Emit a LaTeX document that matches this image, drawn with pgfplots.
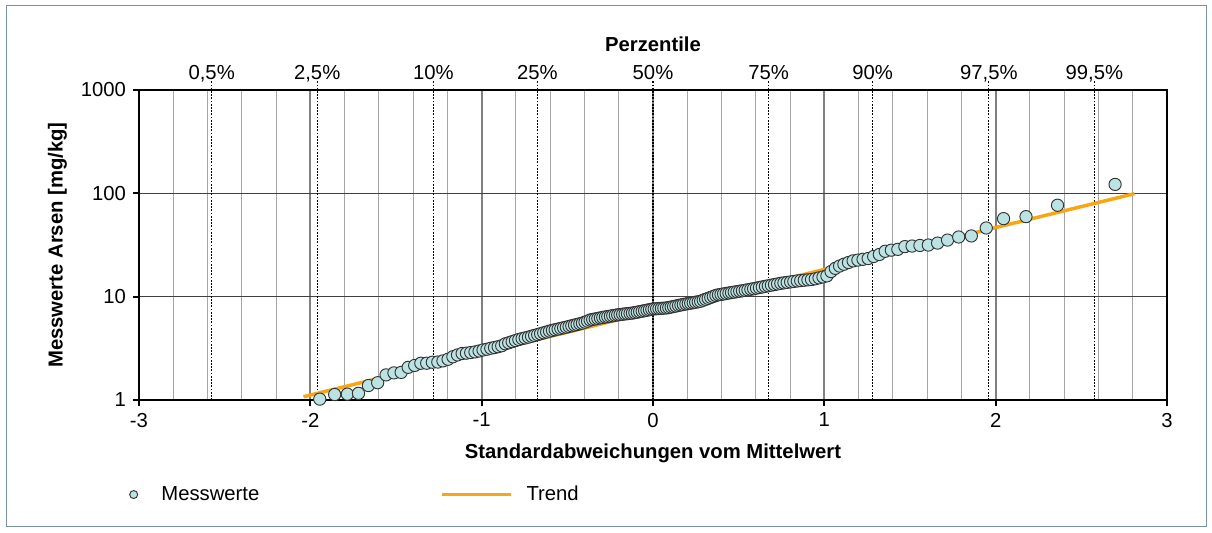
\documentclass[border=0pt]{standalone}
\usepackage{pgfplots}
\pgfplotsset{compat=1.18}
\usepackage{fontspec}
\setmainfont{Liberation Sans}
\definecolor{frameblue}{RGB}{120,146,168}
\definecolor{markfill}{RGB}{187,227,227}
\definecolor{trendorange}{RGB}{250,166,20}
\pgfplotsset{
  markleg/.style={legend image code/.code={\draw[##1, mark size=3pt] plot coordinates {(0pt,0pt)};\path (10.6pt,0pt);}},
  lineleg/.style={legend image code/.code={\draw[##1] (0pt,0pt) -- (51.75pt,0pt);}},
}
\begin{document}
\fontsize{15.2}{18}\selectfont
\begin{tikzpicture}
\path (0pt,0pt) rectangle (909pt,399pt);
\draw[frameblue, line width=0.75pt] (4.5pt,4.5pt) rectangle (904.5pt,394.5pt);
% main axis: grid, frame, ticks
\begin{axis}[
  at={(104.25pt,99pt)}, anchor=south west,
  width=771pt, height=232.5pt, scale only axis,
  xmin=-3, xmax=3, ymin=1, ymax=1000, ymode=log,
  xtick={-3,-2,-1,0,1,2,3}, xticklabels={-3,-2,-1,0,1,2,3},
  minor x tick num=4,
  ytick={1,10,100,1000}, yticklabels={1,10,100,1000},
  yminorticks=false,
  xmajorgrids, xminorgrids, ymajorgrids,
  major x grid style={black!50, line width=1.3pt},
  minor x grid style={black!35, line width=0.8pt},
  major y grid style={black!75, line width=0.9pt},
  tick align=outside, xtick pos=left, ytick pos=left,
  major tick length=4.5pt,
  minor x tick style={draw=none},
  major tick style={black, line width=1.3pt},
  axis line style={black, line width=1.5pt},
  xlabel={\bfseries Standardabweichungen vom Mittelwert},
  ylabel={\bfseries Messwerte Arsen [mg/kg]},
  xlabel style={at={(axis description cs:0.5,-0.171)}, anchor=center},
  ylabel style={at={(axis description cs:-0.0793,0.5)}, anchor=center},
]
\end{axis}
% percentile axis and data
\begin{axis}[
  at={(104.25pt,99pt)}, anchor=south west,
  width=771pt, height=232.5pt, scale only axis,
  xmin=-3, xmax=3, ymin=1, ymax=1000, ymode=log,
  axis line style={draw=none},
  ytick=\empty, yminorticks=false,
  xtick={-2.5758,-1.9600,-1.2816,-0.6745,0,0.6745,1.2816,1.9600,2.5758},
  xticklabels={{0,5\%},{2,5\%},10\%,25\%,50\%,75\%,90\%,{97,5\%},{99,5\%}},
  xtick pos=right, xticklabel pos=right, tick align=outside,
  xticklabel style={anchor=base, yshift=1.5pt},
  major tick length=6.5pt,
  xmajorgrids,
  major x grid style={black, line width=1pt, dash pattern=on 1.3pt off 1.1pt},
  major x tick style={black, line width=1pt, dash pattern=on 1.3pt off 1.1pt},
  xlabel={\bfseries Perzentile},
  xlabel style={at={(axis description cs:0.5,1.148)}, anchor=center},
  legend columns=2,
  legend style={at={(axis description cs:-0.01323,-0.305)}, anchor=west,
    draw=none, fill=none, nodes={inner sep=0pt},
    /tikz/every odd column/.append style={column sep=10pt},
    /tikz/every even column/.append style={column sep=136pt}},
]
\addplot[only marks, mark=*, mark size=4.6pt,
  mark options={fill=markfill, draw=black!80, line width=0.7pt}, markleg]
coordinates {
(-1.945,1.02) (-1.858,1.13) (-1.784,1.14) (-1.719,1.16) (-1.661,1.38)
(-1.607,1.47) (-1.558,1.75) (-1.512,1.83) (-1.470,1.85) (-1.429,2.07)
(-1.391,2.16) (-1.355,2.27) (-1.321,2.27) (-1.288,2.32) (-1.256,2.33)
(-1.226,2.39) (-1.196,2.48) (-1.168,2.62) (-1.141,2.73) (-1.114,2.82)
(-1.089,2.84) (-1.064,2.88) (-1.039,2.92) (-1.015,2.98) (-0.992,3.05)
(-0.969,3.10) (-0.947,3.17) (-0.925,3.22) (-0.904,3.28) (-0.883,3.35)
(-0.862,3.50) (-0.842,3.58) (-0.822,3.67) (-0.803,3.76) (-0.783,3.85)
(-0.764,3.93) (-0.746,3.99) (-0.727,4.06) (-0.709,4.14) (-0.691,4.22)
(-0.673,4.30) (-0.656,4.38) (-0.638,4.47) (-0.621,4.55) (-0.604,4.64)
(-0.587,4.72) (-0.571,4.79) (-0.554,4.86) (-0.538,4.93) (-0.522,5.00)
(-0.506,5.07) (-0.490,5.15) (-0.474,5.23) (-0.458,5.31) (-0.443,5.38)
(-0.427,5.47) (-0.412,5.55) (-0.397,5.67) (-0.382,5.80) (-0.367,5.95)
(-0.352,6.02) (-0.337,6.09) (-0.322,6.16) (-0.307,6.23) (-0.293,6.29)
(-0.278,6.36) (-0.264,6.42) (-0.249,6.48) (-0.235,6.55) (-0.220,6.61)
(-0.206,6.67) (-0.192,6.71) (-0.177,6.76) (-0.163,6.81) (-0.149,6.85)
(-0.134,6.90) (-0.120,6.94) (-0.106,7.01) (-0.092,7.08) (-0.078,7.16)
(-0.063,7.24) (-0.049,7.32) (-0.035,7.40) (-0.021,7.48) (-0.007,7.56)
(0.007,7.62) (0.021,7.65) (0.035,7.68) (0.049,7.71) (0.063,7.74)
(0.078,7.78) (0.092,7.85) (0.106,7.94) (0.120,8.02) (0.134,8.12)
(0.149,8.22) (0.163,8.32) (0.177,8.41) (0.192,8.50) (0.206,8.58)
(0.220,8.66) (0.235,8.75) (0.249,8.84) (0.264,8.93) (0.278,9.04)
(0.293,9.24) (0.307,9.43) (0.322,9.63) (0.337,9.84) (0.352,10.05)
(0.367,10.27) (0.382,10.43) (0.397,10.52) (0.412,10.63) (0.427,10.74)
(0.443,10.85) (0.458,10.96) (0.474,11.07) (0.490,11.18) (0.506,11.30)
(0.522,11.41) (0.538,11.53) (0.554,11.66) (0.571,11.80) (0.587,11.94)
(0.604,12.10) (0.621,12.26) (0.638,12.42) (0.656,12.59) (0.673,12.75)
(0.691,12.93) (0.709,13.10) (0.727,13.28) (0.746,13.46) (0.764,13.61)
(0.783,13.74) (0.803,13.90) (0.822,14.04) (0.842,14.19) (0.862,14.31)
(0.883,14.43) (0.904,14.55) (0.925,14.66) (0.947,14.89) (0.969,15.20)
(0.992,15.52) (1.015,15.9) (1.039,17.5) (1.064,18.8) (1.089,19.8)
(1.114,20.6) (1.141,21.4) (1.168,22.2) (1.196,22.6) (1.226,23.0)
(1.256,23.4) (1.288,24.5) (1.321,25.6) (1.355,27.5) (1.391,28.2)
(1.429,28.7) (1.470,30.5) (1.512,30.9) (1.558,31.3) (1.607,31.6)
(1.661,33.0) (1.719,35.3) (1.784,37.8) (1.858,38.7) (1.945,46.2)
(2.046,56.9) (2.177,59.5) (2.361,76.7) (2.697,122)
};
\addlegendentry{Messwerte}
\addplot[trendorange, line width=2.6pt, lineleg]
coordinates {(-2.04,1.076) (2.81,99.3)};
\addlegendentry{Trend}
\end{axis}
\end{tikzpicture}
\end{document}
